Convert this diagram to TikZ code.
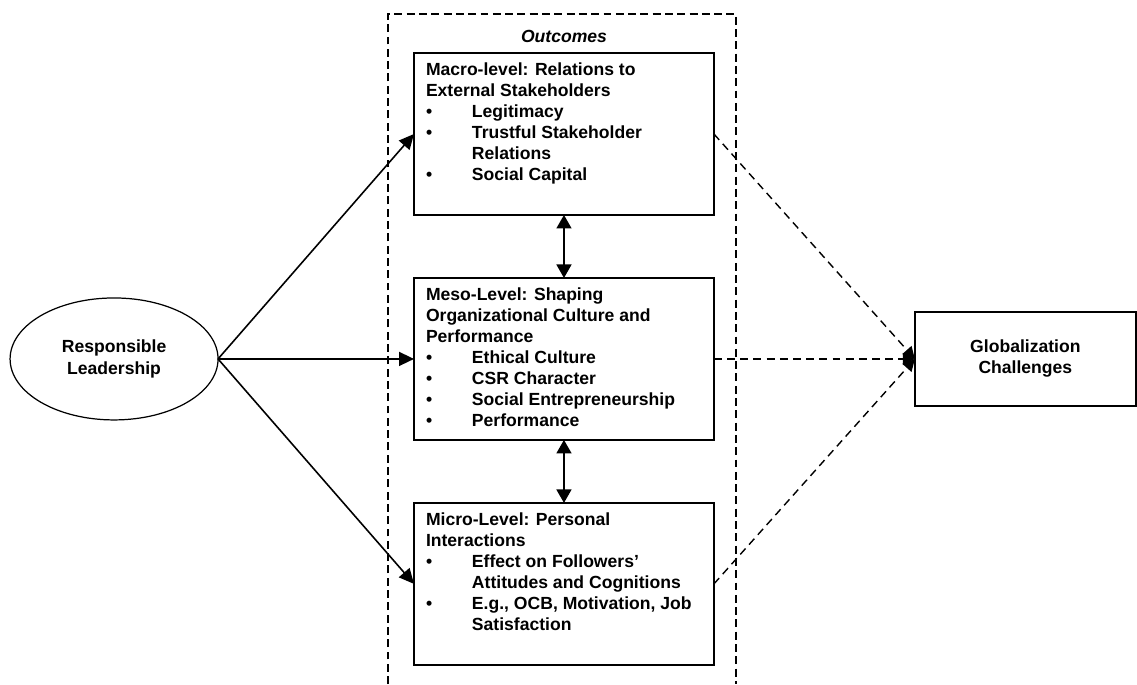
\documentclass[tikz,border=0pt]{standalone}
\usepackage{fontspec}
\setmainfont{Liberation Sans}
\usetikzlibrary{shapes.geometric,arrows.meta,positioning}

\newcommand{\itm}{\makebox[0.92cm][l]{\textbullet}}
\newcommand{\cnt}{\hspace*{0.92cm}}
\newcommand{\lvltext}[1]{\parbox[c][3.24cm][t]{5.52cm}{\vspace*{5.5pt}#1}}

\begin{document}
\begin{tikzpicture}[
    x=0.02cm, y=-0.02cm,
    node distance=1.26cm and 3.92cm,
    font=\fontsize{10}{12}\selectfont\bfseries,
    lvlbox/.style={rectangle, draw=black, line width=1.1pt, inner xsep=0.24cm, inner ysep=0pt, outer sep=0pt},
    leadnode/.style={ellipse, draw=black, line width=0.7pt, minimum width=4.16cm, minimum height=2.44cm, align=center, outer sep=0pt},
    globbox/.style={rectangle, draw=black, line width=1.1pt, minimum width=4.42cm, minimum height=1.88cm, align=center, outer sep=0pt},
    hdlabel/.style={font=\fontsize{10}{12}\selectfont\bfseries\itshape},
    arrow/.style={-{Triangle[length=0.3cm, width=0.28cm]}, line width=0.9pt},
    dblarrow/.style={{Triangle[length=0.27cm, width=0.3cm]}-{Triangle[length=0.27cm, width=0.3cm]}, line width=0.9pt},
    dasharrow/.style={-{Triangle[length=0.24cm, width=0.24cm]}, line width=0.8pt, dash pattern=on 4.5pt off 3pt},
    frame/.style={line width=0.9pt, dash pattern=on 4.5pt off 2.5pt}
]
\useasboundingbox (0,0) rectangle (1137,684);

% === OUTCOME LEVELS (middle column) ===
\node[lvlbox, anchor=north west] (macro) at (414,53) {\lvltext{%
    Macro-level: Relations to\\
    External Stakeholders\\
    \itm Legitimacy\\
    \itm Trustful Stakeholder\\
    \cnt Relations\\
    \itm Social Capital}};
\node[lvlbox, below=of macro] (meso) {\lvltext{%
    Meso-Level: Shaping\\
    Organizational Culture and\\
    Performance\\
    \itm Ethical Culture\\
    \itm CSR Character\\
    \itm Social Entrepreneurship\\
    \itm Performance}};
\node[lvlbox, below=of meso] (micro) {\lvltext{%
    Micro-Level: Personal\\
    Interactions\\
    \itm Effect on Followers'\\
    \cnt Attitudes and Cognitions\\
    \itm E.g., OCB, Motivation, Job\\
    \cnt Satisfaction}};
\node[hdlabel, above=0.09cm of macro] (outcomes) {Outcomes};

% === LEADERSHIP (left) and CHALLENGES (right) ===
\node[leadnode, left=of meso] (lead) {Responsible\\Leadership};
\node[globbox, right=4.02cm of meso] (glob) {Globalization\\Challenges};

% === Outcomes frame, open at the bottom ===
\draw[frame] (388,684) |- (736,14) -- (736,684);

% === Leadership -> each level ===
\draw[arrow] (lead.east) -- (macro.west);
\draw[arrow] (lead.east) -- (meso.west);
\draw[arrow] (lead.east) -- (micro.west);

% === Links between levels ===
\draw[dblarrow] (macro.south) -- (meso.north);
\draw[dblarrow] (meso.south) -- (micro.north);

% === Levels -> globalization ===
\draw[dasharrow] (macro.east) -- (glob.west);
\draw[dasharrow] (meso.east) -- (glob.west);
\draw[dasharrow] (micro.east) -- (glob.west);

\end{tikzpicture}
\end{document}
